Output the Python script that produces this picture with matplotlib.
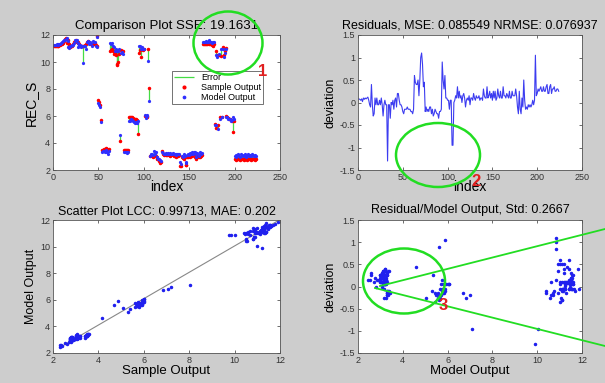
import numpy as np
import matplotlib.pyplot as plt
from matplotlib.patches import Ellipse

# sample (measured) and model outputs, one per index
sample = [
    # 1-49  high level ~11.2
    11.20, 11.20, 11.20, 11.22, 11.22, 11.20, 11.25, 11.25, 11.30, 11.35,
    11.40, 11.55, 11.70, 11.80, 11.40, 11.60, 11.40, 11.30, 11.10, 11.20,
    11.15, 11.30, 11.45, 11.55, 11.60, 11.50, 11.45, 11.40, 11.30, 11.20,
    11.15, 11.20, 11.20, 11.20, 11.25, 11.35, 11.45, 11.55, 11.50, 11.45,
    11.40, 11.30, 11.25, 11.35, 11.30, 11.40, 11.25, 11.90, 11.20,
    # 50-62
    7.20, 7.05, 6.85, 5.70, 3.50, 3.50, 3.55, 3.50, 3.60, 3.55, 3.50, 3.40, 3.55,
    # 63-77
    10.80, 10.90, 11.00, 10.80, 10.60, 10.70, 10.50, 9.85, 9.75, 10.00,
    10.60, 4.15, 10.90, 10.85, 10.80,
    # 78-94
    3.45, 3.50, 3.45, 3.40, 3.50, 3.45, 5.90, 5.90, 5.95, 5.90, 5.85, 5.80,
    5.80, 5.75, 5.70, 5.60, 4.70,
    # 95-107
    10.70, 10.90, 10.40, 11.00, 10.90, 10.95, 6.00, 6.00, 5.95, 6.00, 11.00, 8.05, 3.05,
    # 108-164  low band ~3
    3.10, 3.05, 3.00, 3.05, 3.10, 3.05, 2.90, 2.85, 2.80, 2.70,
    2.55, 2.60, 3.40, 3.20, 3.10, 3.15, 3.10, 3.20, 3.10, 3.15,
    3.10, 3.05, 3.10, 3.15, 3.10, 3.05, 3.10, 3.00, 3.05, 3.10,
    3.05, 3.10, 2.30, 2.30, 2.95, 2.90, 2.85, 2.95, 2.40, 2.35,
    3.00, 2.95, 3.05, 3.00, 3.10, 3.05, 3.15, 3.20, 3.00, 2.80,
    3.05, 3.00, 3.10, 2.95, 3.00, 3.05, 3.10,
    # 165-177
    11.35, 11.30, 11.35, 11.40, 11.30, 11.35, 11.40, 11.35, 11.30, 11.35,
    11.25, 11.20, 11.30,
    # 178-199
    5.40, 10.80, 5.10, 10.55, 5.30, 10.50, 5.90, 10.45, 5.90, 11.10,
    10.50, 10.85, 11.05, 6.00, 5.95, 5.85, 5.80, 5.75, 5.70, 5.65,
    4.85, 5.60,
    # 200-224
    2.85, 2.80, 2.75, 2.80, 2.85, 2.80, 2.75, 2.80, 2.85, 2.80,
    2.75, 2.80, 2.85, 2.80, 2.75, 2.80, 2.85, 2.80, 2.75, 2.80,
    2.85, 2.80, 2.75, 2.80, 2.80,
]

model = [
    11.28, 11.27, 11.25, 11.30, 11.24, 11.30, 11.32, 11.35, 11.38, 11.45,
    11.52, 11.60, 11.65, 11.70, 11.80, 11.55, 11.10, 11.05, 11.20, 11.15,
    11.25, 11.25, 11.40, 11.60, 11.55, 11.60, 11.40, 11.10, 11.25, 11.25,
    11.10, 11.15, 9.90, 11.15, 11.20, 11.00, 11.45, 11.50, 11.55, 11.30,
    11.45, 11.40, 11.15, 11.55, 11.50, 11.45, 11.20, 11.85, 11.10,
    7.00, 6.80, 6.70, 5.55, 3.35, 3.40, 3.40, 3.35, 3.45, 3.35, 3.30, 3.15, 3.40,
    11.40, 11.35, 11.40, 11.20, 11.10, 10.85, 11.00, 10.85, 10.85, 10.85,
    10.95, 4.60, 10.70, 10.75, 10.60,
    3.30, 3.30, 3.35, 3.30, 3.25, 3.30, 5.60, 5.65, 5.80, 5.70, 5.60, 5.55,
    5.45, 5.55, 5.50, 5.45, 5.60,
    11.20, 11.20, 11.00, 11.10, 11.00, 11.00, 6.05, 5.85, 6.00, 6.05, 10.05, 7.10, 3.05,
    3.15, 3.20, 3.10, 3.40, 3.20, 3.30, 3.00, 3.00, 2.80, 2.85,
    2.75, 2.70, 3.30, 3.25, 3.20, 3.20, 3.25, 3.15, 3.20, 3.25,
    3.15, 3.25, 3.20, 3.20, 3.25, 3.15, 3.20, 3.15, 3.10, 3.20,
    3.15, 3.15, 2.60, 2.45, 3.05, 3.00, 3.20, 3.05, 2.55, 2.60,
    3.10, 3.15, 3.10, 3.25, 3.20, 3.30, 3.20, 3.30, 3.30, 2.95,
    3.15, 3.25, 3.20, 3.05, 3.35, 3.20, 3.25,
    11.45, 11.50, 11.50, 11.50, 11.55, 11.45, 11.50, 11.60, 11.45, 11.50,
    11.40, 11.50, 11.45,
    5.30, 10.55, 5.35, 10.40, 5.05, 10.60, 5.80, 10.95, 5.95, 10.95,
    10.40, 10.70, 11.00, 5.90, 5.90, 5.75, 5.75, 5.80, 5.65, 5.70,
    5.90, 5.75,
    3.05, 3.10, 3.00, 3.10, 3.20, 3.05, 3.00, 3.15, 3.10, 3.05,
    3.10, 3.20, 3.05, 3.00, 3.10, 3.20, 3.05, 3.10, 3.05, 3.15,
    3.10, 3.05, 3.05, 3.10, 3.05,
]

sample = np.array(sample)
model = np.array(model)
idx = np.arange(1, len(sample) + 1)
resid = model - sample

sse = 19.1631
mse, nrmse = 0.085549, 0.076937
lcc, mae = 0.99713, 0.202
std = 0.2667

plt.rcParams['font.family'] = ['Liberation Sans', 'DejaVu Sans']
bg = '#cdcdcd'
fig = plt.figure(figsize=(6.05, 3.83), dpi=100, facecolor=bg)

W, H = 605, 383
def place(l, t, r, b):
    return fig.add_axes([l / W, 1 - b / H, (r - l) / W, (b - t) / H])

ax1 = place(53, 35, 280, 170)
ax2 = place(358, 35, 582, 170)
ax3 = place(53, 220, 280, 353)
ax4 = place(358, 220, 582, 353)

for ax in (ax1, ax2, ax3, ax4):
    ax.set_facecolor('white')
    ax.tick_params(direction='in', length=2.5, width=0.5, labelsize=6.5,
                   colors='#333333', top=True, right=True, pad=2)
    for s in ax.spines.values():
        s.set_linewidth(0.6)
        s.set_color('#555555')

dev_ticks = [-1.5, -1, -0.5, 0, 0.5, 1, 1.5]
dev_labels = ['-1.5', '-1', '-0.5', '0', '0.5', '1', '1.5']

# 1. comparison plot
ax1.vlines(idx, sample, model, color='#44dd44', lw=0.9, label='Error')
ax1.plot(idx, sample, '.', color='red', ms=3, label='Sample Output')
ax1.plot(idx, model, '.', color='#3030ff', ms=2.6, label='Model Output')
ax1.set_xlim(0, 250)
ax1.set_ylim(2, 12)
ax1.set_xticks(range(0, 251, 50))
ax1.set_yticks(range(2, 13, 2))
ax1.set_title('Comparison Plot SSE: %.4f' % sse, fontsize=9.5, pad=4)
ax1.set_xlabel('index', fontsize=10, labelpad=-1)
ax1.set_ylabel('REC_S', fontsize=10, labelpad=2)
leg = ax1.legend(loc='upper left', bbox_to_anchor=(0.525, 0.73), fontsize=6.5,
                 fancybox=False, edgecolor='#333333', borderpad=0.2,
                 handlelength=2.2, labelspacing=0.1, borderaxespad=0,
                 markerscale=1.3)
leg.get_frame().set_linewidth(0.6)

# 2. residuals
ax2.plot(idx, resid, color='#3c3cf0', lw=0.8)
ax2.set_xlim(0, 250)
ax2.set_ylim(-1.5, 1.5)
ax2.set_xticks(range(0, 251, 50))
ax2.set_yticks(dev_ticks)
ax2.set_yticklabels(dev_labels)
ax2.set_title('Residuals, MSE: %.6f NRMSE: %.6f' % (mse, nrmse), fontsize=9, pad=5)
ax2.set_xlabel('index', fontsize=10, labelpad=-1)
ax2.set_ylabel('deviation', fontsize=9, labelpad=2)

# 3. scatter
k, c = np.polyfit(sample, model, 1)
xs = np.array([sample.min(), sample.max()])
ax3.plot(xs, k * xs + c, color='#888888', lw=0.8)
ax3.plot(sample, model, '.', color='#2020ee', ms=3)
ax3.set_xlim(2, 12)
ax3.set_ylim(2, 12)
ax3.set_xticks(range(2, 13, 2))
ax3.set_yticks(range(2, 13, 2))
ax3.set_title('Scatter Plot LCC: %.5f, MAE: %.3f' % (lcc, mae), fontsize=9, pad=4)
ax3.set_xlabel('Sample Output', fontsize=9.5, labelpad=0)
ax3.set_ylabel('Model Output', fontsize=9, labelpad=2)

# 4. residual vs model output
ax4.plot(model, resid, '.', color='#2020ee', ms=3)
ax4.set_xlim(2, 12)
ax4.set_ylim(-1.5, 1.5)
ax4.set_xticks(range(2, 13, 2))
ax4.set_yticks(dev_ticks)
ax4.set_yticklabels(dev_labels)
ax4.set_title('Residual/Model Output, Std: %.4f' % std, fontsize=9, pad=5)
ax4.set_xlabel('Model Output', fontsize=9.5, labelpad=0)
ax4.set_ylabel('deviation', fontsize=9, labelpad=2)

# hand-drawn annotations in pixel coordinates
ov = fig.add_axes([0, 0, 1, 1], facecolor='none')
ov.set_xlim(0, W)
ov.set_ylim(H, 0)
ov.axis('off')
green = '#22dd22'
for cx, cy, w, h in [(228, 43, 69, 63), (438, 155, 84, 64), (404, 281, 82, 65)]:
    ov.add_patch(Ellipse((cx, cy), w, h, fill=False, ec=green, lw=1.8))
ov.plot([380, 605], [286, 229], color=green, lw=1.3)
ov.plot([375, 605], [288, 346], color=green, lw=1.3)
for t, x, y in [('1', 263, 71), ('2', 476, 181), ('3', 443, 306)]:
    ov.text(x, y, t, color='#e02020', fontsize=12, fontweight='bold',
            ha='center', va='center')

fig.savefig('out.png', dpi=100, facecolor=bg)
